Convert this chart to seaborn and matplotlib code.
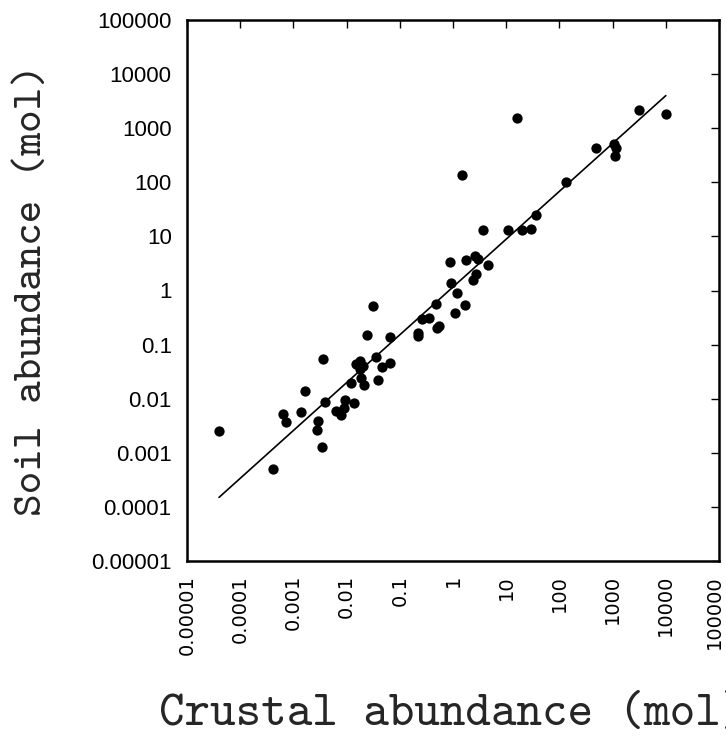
import matplotlib
matplotlib.use("Agg")
import matplotlib.pyplot as plt
import matplotlib.transforms as mtransforms
import seaborn as sns
import pandas as pd

# crustal vs soil abundance (mol)
crust = [4.0e-5, 4.1e-4, 6.5e-4, 7.4e-4, 1.4e-3, 1.66e-3, 2.95e-3, 2.8e-3, 3.5e-3, 3.6e-3,
         4.0e-3, 6.3e-3, 7.8e-3, 9.1e-3, 9.5e-3, 0.0138, 0.012, 0.0151, 0.0182, 0.020,
         0.0178, 0.019, 0.0214, 0.0245, 0.032, 0.036, 0.039, 0.047, 0.066, 0.065,
         0.224, 0.224, 0.26, 0.36, 0.48, 0.51, 0.55, 0.87, 0.91, 1.07,
         1.17, 1.45, 1.7, 1.78, 2.34, 2.7, 2.6, 2.95, 3.6, 4.5,
         11, 16, 19.5, 29.5, 37, 135, 480, 1070, 1170, 1120,
         3160, 10000]
soil = [0.0025, 5.0e-4, 0.0052, 0.0037, 0.0056, 0.0138, 0.0039, 0.0026, 0.00126, 0.055,
        0.0087, 0.0059, 0.0049, 0.0068, 0.0093, 0.0083, 0.0195, 0.043, 0.050, 0.041,
        0.035, 0.024, 0.0178, 0.148, 0.52, 0.058, 0.022, 0.038, 0.045, 0.138,
        0.162, 0.145, 0.295, 0.31, 0.575, 0.204, 0.219, 3.4, 1.35, 0.39,
        0.89, 135, 0.55, 3.6, 1.55, 2.0, 4.4, 3.8, 13.2, 3.0,
        12.9, 1550, 12.9, 13.8, 24.5, 100, 425, 510, 435, 310,
        2190, 1860]

# regression line end points
fit_x = [4.0e-5, 1.0e4]
fit_y = [1.5e-4, 4.0e3]

ticks = [1e-5, 1e-4, 1e-3, 1e-2, 1e-1, 1, 10, 100, 1000, 10000, 100000]
tick_labels = ["0.00001", "0.0001", "0.001", "0.01", "0.1", "1", "10", "100",
               "1000", "10000", "100000"]

df = pd.DataFrame({"crust": crust, "soil": soil})
fit = pd.DataFrame({"x": fit_x, "y": fit_y})

sns.set_style("white")
plt.rcParams["font.family"] = ["Liberation Sans", "DejaVu Sans"]

fig = plt.figure(figsize=(7.26, 7.40), dpi=100)
ax = fig.add_axes([187 / 726, 1 - 561 / 740, 532 / 726, 541 / 740])

sns.lineplot(data=fit, x="x", y="y", color="black", linewidth=1.2, ax=ax)
sns.scatterplot(data=df, x="crust", y="soil", color="black", s=55,
                edgecolor="black", linewidth=0, ax=ax, zorder=3)

ax.set_xscale("log")
ax.set_yscale("log")
ax.set_xlim(1e-5, 1e5)
ax.set_ylim(1e-5, 1e5)

ax.set_xticks(ticks)
ax.set_xticklabels(tick_labels, rotation=90, fontsize=14, family="DejaVu Sans")
ax.set_yticks(ticks)
ax.set_yticklabels(tick_labels, fontsize=16)
ax.minorticks_off()
ax.tick_params(direction="in", length=6, width=1, top=True, right=True,
               colors="black")
ax.tick_params(axis="x", pad=10)
ax.tick_params(axis="y", pad=11)

# nudge the last x label a little left so it stays inside the figure
last = ax.get_xticklabels()[-1]
last.set_transform(last.get_transform() +
                   mtransforms.ScaledTranslation(-5 / 100, 0, fig.dpi_scale_trans))

for sp in ax.spines.values():
    sp.set_linewidth(1.8)
    sp.set_color("black")

# the reference crops the closing bracket at the right edge
ax.set_xlabel("Crustal abundance (mol)", fontsize=35, family="cmtt10")
ax.set_ylabel("Soil abundance (mol)", fontsize=31, family="cmtt10")
ax.xaxis.set_label_coords(0.5, -0.245)
ax.yaxis.set_label_coords(-0.255, 0.5)

fig.savefig("out.png", dpi=100)
